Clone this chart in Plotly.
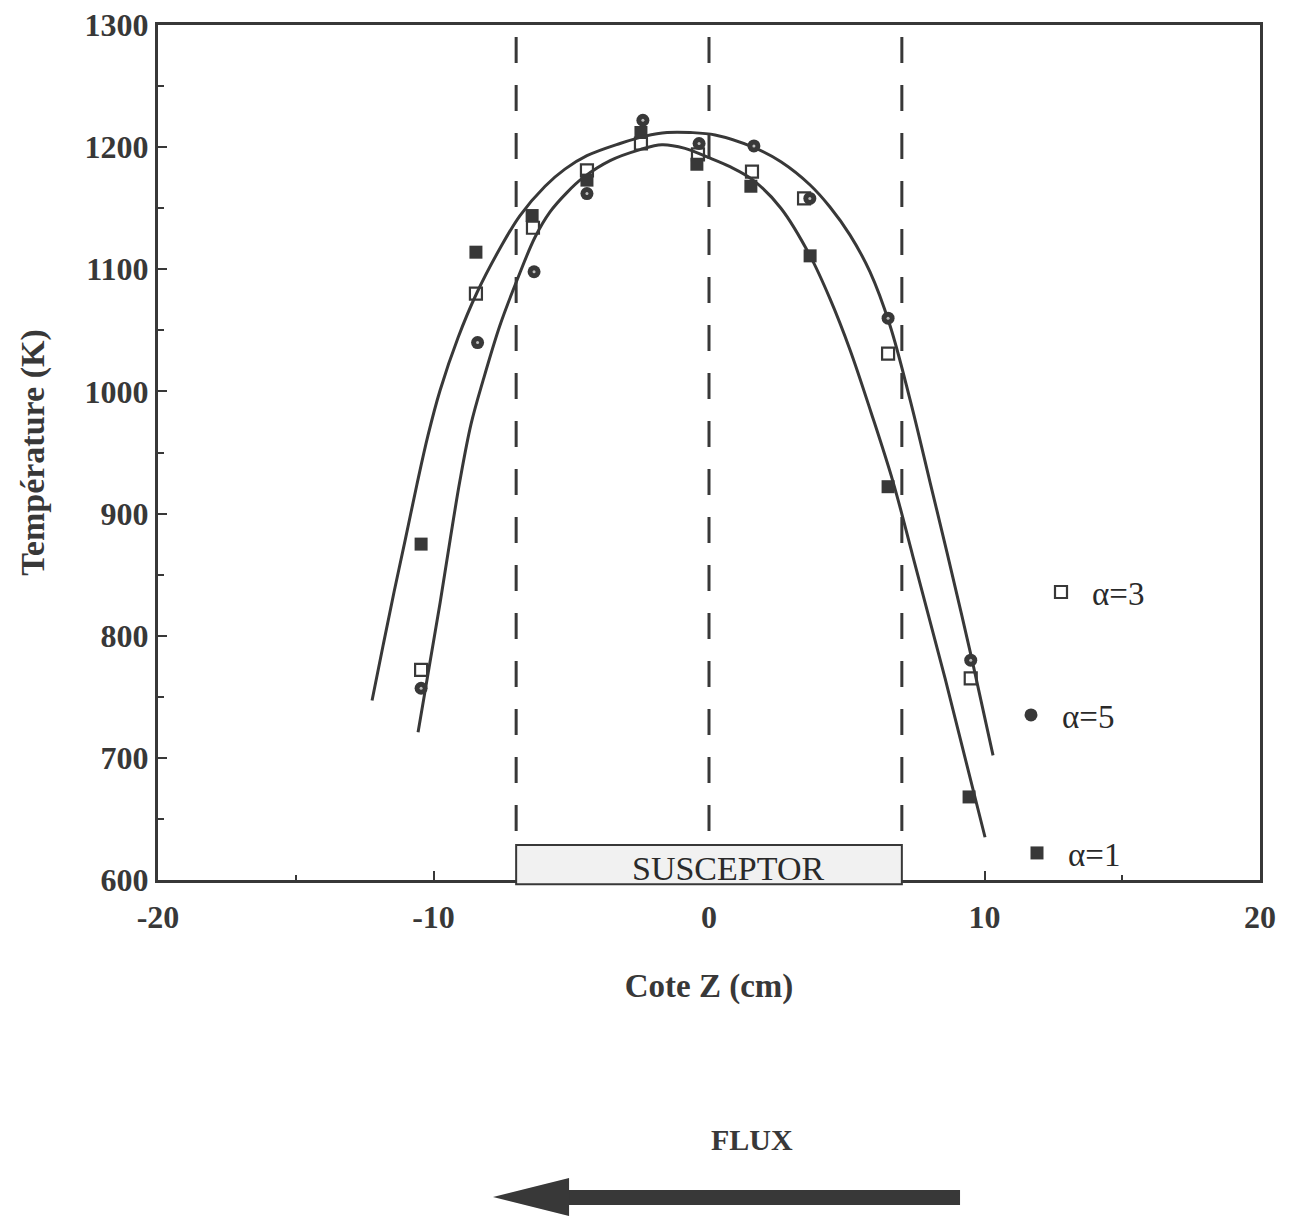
import plotly.graph_objects as go

# ---- data ----
alpha3_z = [-10.45, -8.46, -6.39, -4.43, -2.47, -0.40, 1.56, 3.45, 6.50, 9.50]
alpha3_T = [772, 1080, 1134, 1181, 1203, 1194, 1180, 1158, 1031, 765]

alpha5_z = [-10.45, -8.40, -6.35, -4.43, -2.40, -0.36, 1.63, 3.66, 6.50, 9.50]
alpha5_T = [757, 1040, 1098, 1162, 1222, 1203, 1201, 1158, 1060, 780]

alpha1_z = [-10.45, -8.46, -6.42, -4.43, -2.47, -0.44, 1.52, 3.67, 6.50, 9.44]
alpha1_T = [875, 1114, 1144, 1173, 1212, 1186, 1168, 1111, 922, 668]

# fitted curves
curveA_z = [-12.23, -11.83, -11.43, -11.03, -10.60, -10.20, -9.76, -9.11, -8.42, -7.59, -6.86,
            -5.95, -5.23, -4.43, -3.23, -2.32, -1.52, -0.69, 0.22, 1.60, 2.61, 3.67, 4.39,
            5.12, 5.84, 6.57, 7.30, 8.02, 8.64, 9.55, 10.31]
curveA_T = [747, 792, 836, 878, 924, 964, 1001, 1044, 1081, 1117, 1144,
            1168, 1182, 1193, 1203, 1209, 1212, 1212, 1210, 1200, 1188, 1169, 1151,
            1128, 1098, 1054, 993, 926, 868, 780, 702]

curveB_z = [-10.56, -10.16, -9.76, -9.40, -9.04, -8.64, -8.20, -7.59, -6.97, -6.32, -5.77,
            -5.15, -4.57, -3.59, -2.50, -1.71, -0.87, -0.07, 0.76, 1.60, 2.61, 3.67, 4.39,
            5.12, 5.88, 6.68, 7.40, 8.57, 10.02]
curveB_T = [721, 774, 827, 878, 927, 973, 1009, 1054, 1091, 1126, 1147,
            1163, 1175, 1189, 1198, 1202, 1199, 1192, 1184, 1173, 1150, 1111, 1076,
            1034, 983, 926, 865, 765, 635]

zone_lines_z = [-7, 0, 7]          # susceptor edges and centre
susceptor_z = [-7, 7]

x_ticks = [-20, -10, 0, 10, 20]
y_ticks = [600, 700, 800, 900, 1000, 1100, 1200, 1300]

INK = "#383838"
SERIF = "Liberation Serif"

fig = go.Figure()

for zz, tt in ((curveA_z, curveA_T), (curveB_z, curveB_T)):
    fig.add_trace(go.Scatter(x=zz, y=tt, mode="lines",
                             line=dict(color=INK, width=3, shape="spline", smoothing=1.0),
                             showlegend=False, hoverinfo="skip"))

fig.add_trace(go.Scatter(x=alpha3_z, y=alpha3_T, mode="markers", name="α=3", legend="legend",
                         marker=dict(symbol="square-open", size=12, color=INK, line=dict(width=2.2, color=INK))))
fig.add_trace(go.Scatter(x=alpha5_z, y=alpha5_T, mode="markers", name="α=5", legend="legend2",
                         marker=dict(symbol="circle", size=13, color=INK, line=dict(width=0))))
fig.add_trace(go.Scatter(x=alpha5_z, y=alpha5_T, mode="markers", showlegend=False, hoverinfo="skip",
                         marker=dict(symbol="circle", size=3, color="#bdbdbd", line=dict(width=0))))
fig.add_trace(go.Scatter(x=alpha1_z, y=alpha1_T, mode="markers", name="α=1", legend="legend3",
                         marker=dict(symbol="square", size=13, color=INK, line=dict(width=0))))

# dashed vertical lines
for zx in zone_lines_z:
    fig.add_shape(type="line", xref="x", yref="paper", x0=zx, x1=zx, y0=0.986, y1=0.05,
                  line=dict(color=INK, width=3, dash="26px,22px"), layer="above")

# susceptor box
fig.add_shape(type="rect", xref="x", yref="paper", x0=susceptor_z[0], x1=susceptor_z[1],
              y0=-0.005, y1=0.041, fillcolor="#f1f1f1", line=dict(color=INK, width=2), layer="above")
fig.add_annotation(x=0.7, xref="x", y=0.013, yref="paper", text="SUSCEPTOR", showarrow=False,
                   font=dict(family=SERIF, size=34, color="#2a2a2a"), yanchor="middle")

# flux arrow
fig.add_shape(type="rect", xref="paper", yref="paper", x0=0.3711, x1=0.7278, y0=-0.3801, y1=-0.3626,
              fillcolor=INK, line=dict(width=0))
fig.add_shape(type="path", xref="paper", yref="paper",
              path="M 0.304,-0.3708 L 0.3730,-0.3485 L 0.3730,-0.393 Z",
              fillcolor=INK, line=dict(width=0))
fig.add_annotation(x=0.539, xref="paper", y=-0.303, yref="paper", text="<b>FLUX</b>", showarrow=False,
                   font=dict(family=SERIF, size=30, color=INK), yanchor="middle")

legend_common = dict(font=dict(family=SERIF, size=33, color="#2a2a2a"), bgcolor="rgba(0,0,0,0)",
                     borderwidth=0, xanchor="left", yanchor="middle", itemwidth=52)
fig.update_layout(
    width=1291, height=1210,
    margin=dict(l=150, r=39, t=17, b=338, autoexpand=False),
    paper_bgcolor="white", plot_bgcolor="white",
    font=dict(family=SERIF, color=INK),
    legend=dict(x=(1061 - 31 - 158) / 1102, y=0.3368, **legend_common),
    legend2=dict(x=(1031 - 31 - 158) / 1102, y=0.193, **legend_common),
    legend3=dict(x=(1037 - 31 - 158) / 1102, y=0.0316, **legend_common),
    xaxis=dict(range=[-20, 20], tickvals=x_ticks, ticktext=[str(v) for v in x_ticks],
               ticks="inside", ticklen=9, tickwidth=2, tickcolor=INK,
               minor=dict(dtick=5, ticks="inside", ticklen=5, tickwidth=2, tickcolor=INK),
               showline=True, linecolor=INK, linewidth=3, mirror=True, showgrid=False, zeroline=False,
               tickfont=dict(family=SERIF, size=32, color=INK, weight="bold"), ticklabelstandoff=7,
               ticklabeloverflow="allow", automargin=False,
               title=dict(text="<b>Cote Z (cm)</b>", font=dict(family=SERIF, size=33, color=INK), standoff=40)),
    yaxis=dict(range=[600, 1300], tickvals=y_ticks, ticktext=[str(v) for v in y_ticks],
               ticks="inside", ticklen=9, tickwidth=2, tickcolor=INK,
               minor=dict(dtick=50, ticks="inside", ticklen=6, tickwidth=2, tickcolor=INK),
               showline=True, linecolor=INK, linewidth=3, mirror=True, showgrid=False, zeroline=False,
               tickfont=dict(family=SERIF, size=32, color=INK, weight="bold"), ticklabelstandoff=0,
               ticklabeloverflow="allow", automargin=False,
               title=dict(text="<b>Température (K)</b>", font=dict(family=SERIF, size=34, color=INK), standoff=30)),
)

fig.write_html("out.html", config={"displayModeBar": False})
